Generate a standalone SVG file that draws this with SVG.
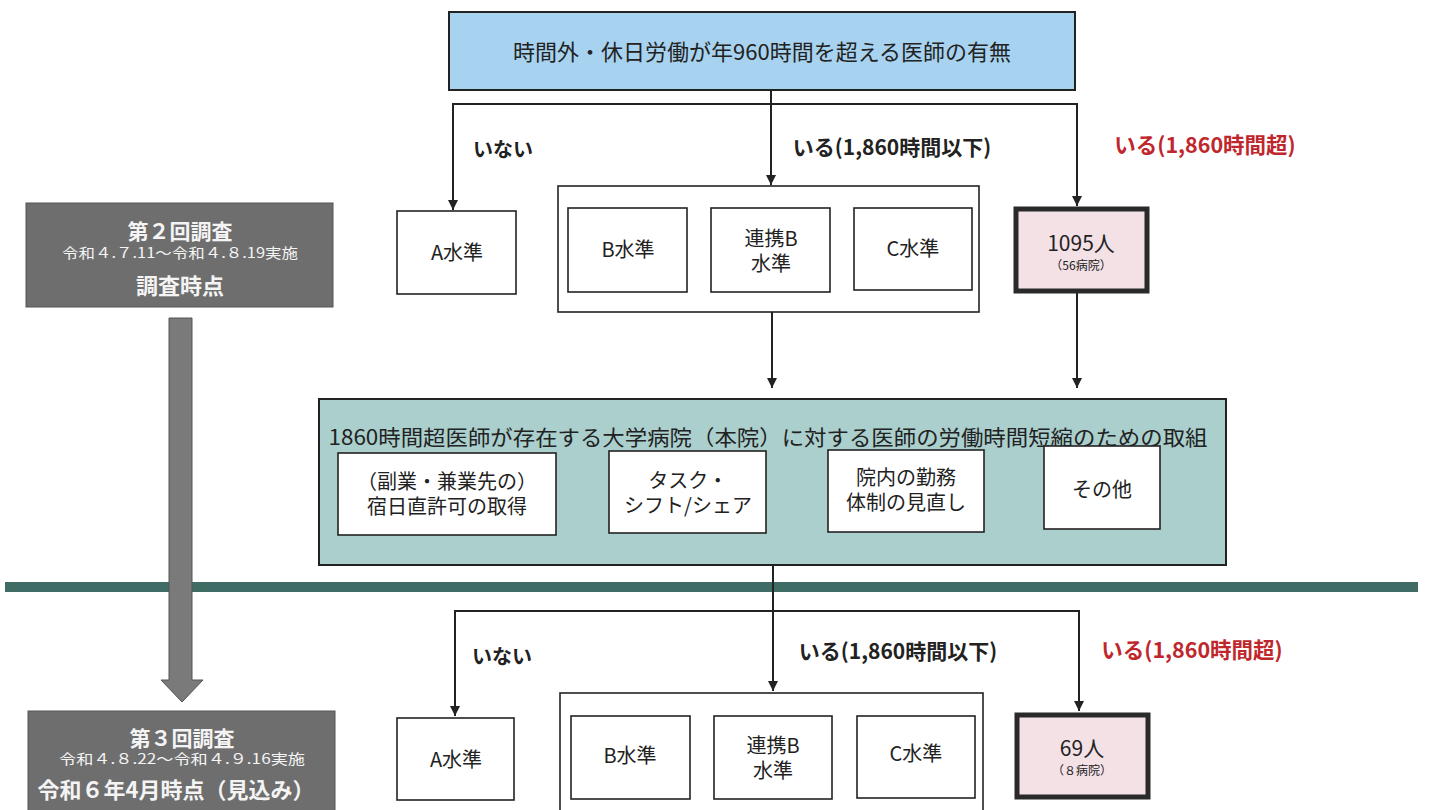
<svg xmlns="http://www.w3.org/2000/svg" width="1429" height="810" viewBox="0 0 1429 810">
<defs>
<marker id="ah" viewBox="0 0 10 10" refX="10" refY="5" markerWidth="10" markerHeight="10" markerUnits="userSpaceOnUse" orient="auto">
<path d="M0,0 L10,5 L0,10 z" fill="#222"/>
</marker>
</defs>
<style>
text{font-family:"Noto Sans CJK JP","Noto Sans",sans-serif;text-anchor:middle;dominant-baseline:central;fill:#222}
.box{fill:#fff;stroke:#222;stroke-width:1.6}
.lbl{font-size:20px}
.b{font-weight:bold}
.red{fill:#c0272d}
.con{fill:none;stroke:#222;stroke-width:2}
.pink{fill:#f3e1e6;stroke:#2a2a2a;stroke-width:5}
.gray{fill:#6e6e6e;stroke:#555;stroke-width:1}
.w{fill:#f4f4f4}
</style>
<rect width="1429" height="810" fill="#fff"/>

<g id="separator"><rect x="5" y="582" width="1413" height="10" fill="#3f6c64"/></g>

<g id="left-arrow">
<path d="M169,318 H192 V680 H203 L182,702 L161,680 H169 Z" fill="#7a7a7a" stroke="#555" stroke-width="1"/>
</g>

<g id="survey2">
<rect class="gray" x="26" y="203" width="307" height="104"/>
<text class="w b" x="180" y="230" font-size="21">第２回調査</text>
<text class="w" x="180" y="252" font-size="14" textLength="236" lengthAdjust="spacingAndGlyphs">令和４.７.11～令和４.８.19実施</text>
<text class="w b" x="180" y="284" font-size="22">調査時点</text>
</g>

<g id="survey3">
<rect class="gray" x="28" y="711" width="307" height="110"/>
<text class="w b" x="182" y="737" font-size="21">第３回調査</text>
<text class="w" x="182" y="758" font-size="14" textLength="246" lengthAdjust="spacingAndGlyphs">令和４.８.22～令和４.９.16実施</text>
<text class="w b" x="176" y="788" font-size="22">令和６年4月時点（見込み）</text>
</g>

<g id="connectors">
<path class="con" d="M771,90 V185" marker-end="url(#ah)"/>
<path class="con" d="M771,104 H453 V210" marker-end="url(#ah)"/>
<path class="con" d="M771,104 H1077 V206" marker-end="url(#ah)"/>
<path class="con" d="M772,312 V388" marker-end="url(#ah)"/>
<path class="con" d="M1077,293 V388" marker-end="url(#ah)"/>
<path class="con" d="M773,565 V691" marker-end="url(#ah)"/>
<path class="con" d="M773,611 H455 V716" marker-end="url(#ah)"/>
<path class="con" d="M773,611 H1079 V711" marker-end="url(#ah)"/>
</g>

<g id="q-top">
<rect x="449" y="12" width="626" height="78" fill="#a7d3f0" stroke="#222" stroke-width="2"/>
<text x="762" y="50" font-size="22">時間外・休日労働が年960時間を超える医師の有無</text>
</g>

<g id="labels-top">
<text class="b" x="503" y="148" font-size="20">いない</text>
<text class="b" x="892" y="146" font-size="21">いる(1,860時間以下)</text>
<text class="b red" x="1205" y="143" font-size="21.5">いる(1,860時間超)</text>
</g>

<g id="a-top">
<rect class="box" x="397" y="211" width="119" height="83"/>
<text class="lbl" x="457" y="251">A水準</text>
</g>
<g id="bc-top">
<rect class="box" x="558" y="186" width="421" height="126"/>
<rect class="box" x="568" y="208" width="119" height="84"/>
<text class="lbl" x="628" y="248">B水準</text>
<rect class="box" x="711" y="208" width="119" height="84"/>
<text class="lbl" x="771" y="237">連携B<tspan x="771" dy="25">水準</tspan></text>
<rect class="box" x="854" y="208" width="118" height="82"/>
<text class="lbl" x="913" y="247">C水準</text>
</g>
<g id="over-top">
<rect class="pink" x="1016" y="209" width="131" height="82"/>
<text x="1081" y="242" font-size="21">1095人</text>
<text x="1081" y="264" font-size="12">（56病院）</text>
</g>

<g id="measures">
<rect x="319" y="399" width="907" height="166" fill="#aacfcd" stroke="#222" stroke-width="2"/>
<text x="768" y="436" font-size="21" textLength="879" lengthAdjust="spacingAndGlyphs">1860時間超医師が存在する大学病院（本院）に対する医師の労働時間短縮のための取組</text>
<rect class="box" x="338" y="453" width="218" height="82"/>
<text class="lbl" x="447" y="480">（副業・兼業先の）<tspan x="447" dy="25">宿日直許可の取得</tspan></text>
<rect class="box" x="609" y="451" width="157" height="82"/>
<text class="lbl" x="688" y="479">タスク・<tspan x="688" dy="25">シフト/シェア</tspan></text>
<rect class="box" x="828" y="450" width="156" height="82"/>
<text class="lbl" x="906" y="476">院内の勤務<tspan x="906" dy="25">体制の見直し</tspan></text>
<rect class="box" x="1044" y="446" width="116" height="83"/>
<text class="lbl" x="1102" y="488">その他</text>
</g>

<g id="labels-bottom">
<text class="b" x="502" y="655" font-size="20">いない</text>
<text class="b" x="898" y="650" font-size="21">いる(1,860時間以下)</text>
<text class="b red" x="1192" y="648" font-size="21.5">いる(1,860時間超)</text>
</g>

<g id="a-bottom">
<rect class="box" x="397" y="718" width="117" height="82"/>
<text class="lbl" x="456" y="758">A水準</text>
</g>
<g id="bc-bottom">
<rect class="box" x="560" y="693" width="423" height="125"/>
<rect class="box" x="571" y="716" width="119" height="83"/>
<text class="lbl" x="630" y="754">B水準</text>
<rect class="box" x="714" y="716" width="118" height="83"/>
<text class="lbl" x="773" y="744">連携B<tspan x="773" dy="25">水準</tspan></text>
<rect class="box" x="857" y="716" width="118" height="82"/>
<text class="lbl" x="916" y="752">C水準</text>
</g>
<g id="over-bottom">
<rect class="pink" x="1017" y="715" width="131" height="82"/>
<text x="1082" y="747" font-size="21">69人</text>
<text x="1082" y="769" font-size="12">（８病院）</text>
</g>
</svg>
